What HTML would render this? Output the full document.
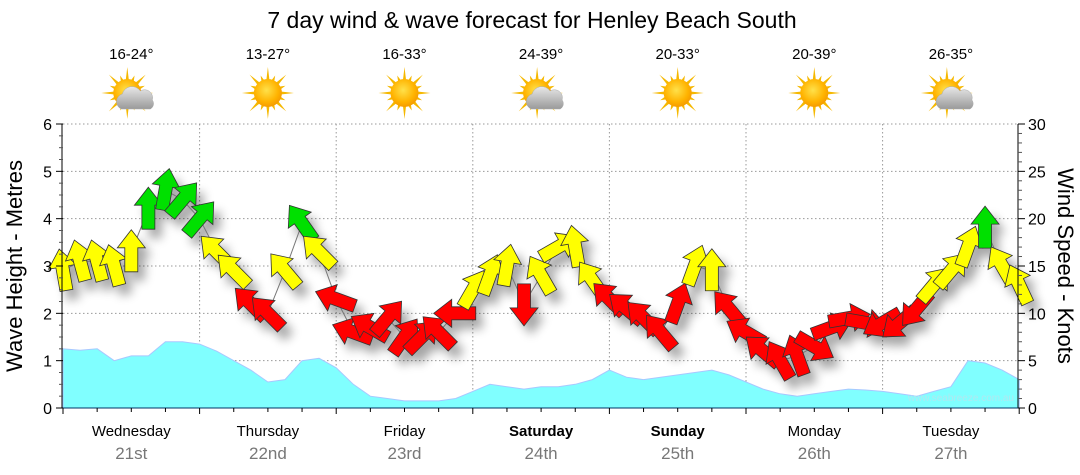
<!DOCTYPE html>
<html><head><meta charset="utf-8">
<style>
html,body{margin:0;padding:0;background:#fff;}
svg{display:block;font-family:"Liberation Sans",Tahoma,sans-serif;}
</style></head>
<body>
<svg id="chart" width="1080" height="475" viewBox="0 0 1080 475" xmlns="http://www.w3.org/2000/svg">
<defs>
<filter id="sh" x="-50%" y="-50%" width="200%" height="200%"><feGaussianBlur stdDeviation="5"/></filter>
<radialGradient id="sunG" cx="45%" cy="40%" r="60%"><stop offset="0" stop-color="#ffe14a"/><stop offset="0.7" stop-color="#ffb300"/><stop offset="1" stop-color="#f59b00"/></radialGradient>
<linearGradient id="cloudG" x1="0" y1="0" x2="0" y2="1"><stop offset="0" stop-color="#e8e8e8"/><stop offset="1" stop-color="#9a9a9a"/></linearGradient>
</defs>
<text x="532" y="28" font-size="23" text-anchor="middle" fill="#000">7 day wind &amp; wave forecast for Henley Beach South</text>
<g id="grid"></g>
<g id="waves"></g>
<g id="shadows" filter="url(#sh)" opacity="0.35"></g>
<g id="arrows"></g>
<g id="axes"></g>
<g id="days"></g>
<text x="1014" y="401" font-size="10" text-anchor="end" fill="#b0e8f0">www.seabreeze.com.au</text>
<text transform="translate(22,266) rotate(-90)" font-size="22" text-anchor="middle">Wave Height - Metres</text>
<text transform="translate(1058,266) rotate(90)" font-size="22" text-anchor="middle">Wind Speed - Knots</text>
</svg>
<script>
const dayNames = ["Wednesday","Thursday","Friday","Saturday","Sunday","Monday","Tuesday"];
const dayDates = ["21st","22nd","23rd","24th","25th","26th","27th"];
const temps = ["16-24°","13-27°","16-33°","24-39°","20-33°","20-39°","26-35°"];
const icons = ["cloud","sun","sun","cloud","sun","sun","cloud"];
const windSpeed = [14.5,15.5,15.5,15,16.5,21,23,22, 20,16.5,14.5,11,10,14.5,19.5,16.5, 11.5,8,8.5,9.5,7.5,7.5,8,10, 12.5,14,15,11,14,17,17,13.5, 11.5,10.5,9.5,8,11,15,14.5,10.5, 8,6,5,5.5,6.5,8.5,9.5,9, 9,9,10.5,13,14.5,17,19,15,13];
const windDir = [-10,-15,-15,-15,0,0,10,40, 40,-45,-45,-45,-45,-40,-35,-45, -70,-70,-60,40,35,45,-45,-90, 30,20,10,180,-30,60,-10,-35, -45,-50,-45,-40,20,20,0,-40, -60,-50,-30,-20,120,70,80,100, 240,230,220,40,40,20,0,-30,-25];
const waveHeight = [1.25,1.22,1.25,1.0,1.1,1.1,1.4,1.4, 1.35,1.2,1.0,0.8,0.55,0.6,1.0,1.05, 0.85,0.5,0.25,0.2,0.15,0.15,0.15,0.2, 0.35,0.5,0.45,0.4,0.45,0.45,0.5,0.6, 0.8,0.65,0.6,0.65,0.7,0.75,0.8,0.7, 0.55,0.4,0.3,0.25,0.3,0.35,0.4,0.38, 0.35,0.3,0.25,0.35,0.45,1.0,0.95,0.8,0.6];

const NS="http://www.w3.org/2000/svg";
const X0=63, DW=136.6, YT=124, YB=408;
const xT = h => X0 + h/24*DW;
const yM = m => YB - (YB-YT)*m/6;
const yK = k => YB - (YB-YT)*k/30;
function mk(tag, attrs, parent){const e=document.createElementNS(NS,tag);for(const k in attrs)e.setAttribute(k,attrs[k]);parent.appendChild(e);return e;}
const G=id=>document.getElementById(id);

const grid=G('grid');
for(let m=1;m<=6;m++){
  const l=mk('line',{x1:X0,x2:1018,y1:yM(m),y2:yM(m),stroke:'#999','stroke-dasharray':'1.5,2.5','stroke-width':1},grid);
  
  
}
for(let d=1;d<7;d++){
  const l=mk('line',{x1:xT(d*24),x2:xT(d*24),y1:YT,y2:YB,stroke:'#999','stroke-dasharray':'1.5,2.5','stroke-width':1},grid);
  
  
}

let pts=waveHeight.map((v,i)=>xT(i*3).toFixed(1)+','+yM(v).toFixed(1));
const wp=mk('polygon',{points:X0+','+YB+' '+pts.join(' ')+' '+xT((waveHeight.length-1)*3)+','+YB,fill:'#80ffff',stroke:'#a8c8ff','stroke-width':1},G('waves'));



const arrowPath="M0,-22 L14,-4 L6.5,-4 L6.5,20 L-6.5,20 L-6.5,-4 L-14,-4 Z";
function col(k){return k<12?'#ff0000':(k<18?'#ffff00':'#00e000');}
windSpeed.forEach((k,i)=>{
  const x=xT(i*3), y=yK(k), a=windDir[i];
  mk('path',{d:arrowPath,fill:'#000',transform:`translate(${x+7},${y+9}) rotate(${a})`},G('shadows'));
});
const ln=mk('polyline',{points:windSpeed.map((k,i)=>xT(i*3)+','+yK(k)).join(' '),fill:'none',stroke:'#777','stroke-width':1},G('arrows'));


windSpeed.forEach((k,i)=>{
  const x=xT(i*3), y=yK(k), a=windDir[i];
  const p=mk('path',{d:arrowPath,fill:col(k),stroke:'#333','stroke-width':0.8,transform:`translate(${x},${y}) rotate(${a})`},G('arrows'));
  
  
});

const ax=G('axes');
mk('line',{x1:X0-1,x2:X0-1,y1:YT,y2:YB,stroke:'#000'},ax);
mk('line',{x1:1018,x2:1018,y1:YT,y2:YB,stroke:'#000'},ax);
mk('line',{x1:X0-1,x2:1018,y1:YB,y2:YB,stroke:'#003366'},ax);
for(let m=0;m<=6;m++){
  mk('line',{x1:X0-7,x2:X0,y1:yM(m),y2:yM(m),stroke:'#000'},ax);
  const t=mk('text',{x:X0-11,y:yM(m)+6,'font-size':16,'text-anchor':'end'},ax);t.textContent=m;
  
  
}
for(let m=0.25;m<6;m+=0.25){ if(m%1) mk('line',{x1:X0-4,x2:X0,y1:yM(m),y2:yM(m),stroke:'#555'},ax); }
for(let k=0;k<=30;k+=5){
  mk('line',{x1:1018,x2:1025,y1:yK(k),y2:yK(k),stroke:'#000'},ax);
  const t=mk('text',{x:1028,y:yK(k)+6,'font-size':16},ax);t.textContent=k;
  
  
}
for(let k=1;k<30;k++){ if(k%5) mk('line',{x1:1018,x2:1022,y1:yK(k),y2:yK(k),stroke:'#555'},ax); }
for(let q=0;q<=28;q++){ mk('line',{x1:xT(q*6),x2:xT(q*6),y1:YB,y2:YB+(q%4?4:6),stroke:'#000'},ax); }

const dg=G('days');
function sun(g,cx,cy){
  for(let r=0;r<16;r++){
    const a=r*Math.PI/8, L=r%2?19:26;
    mk('polygon',{points:`${cx+Math.cos(a)*L},${cy+Math.sin(a)*L} ${cx+Math.cos(a+0.12)*13},${cy+Math.sin(a+0.12)*13} ${cx+Math.cos(a-0.12)*13},${cy+Math.sin(a-0.12)*13}`,fill:'#f5b800'},g);
  }
  mk('circle',{cx,cy,r:14,fill:'url(#sunG)'},g);
}
dayNames.forEach((n,d)=>{
  const cx=xT(d*24+12);
  const t=mk('text',{x:cx,y:59,'font-size':15,'text-anchor':'middle'},dg);t.textContent=temps[d];
  
  
  const g=mk('g',{},dg);
  
  
  sun(g,cx-(icons[d]==='cloud'?4:0),93);
  if(icons[d]==='cloud'){
    mk('path',{d:`M${cx-10},109 a8,8 0 0 1 1,-15 a10,10 0 0 1 18,-3 a8,8 0 0 1 12,9 a6,6 0 0 1 -2,9 Z`,fill:'url(#cloudG)',stroke:'#aaa','stroke-width':0.5},g);
  }
  const dn=mk('text',{x:cx,y:436,'font-size':15,'text-anchor':'middle','font-weight':(d===3||d===4)?'bold':'normal'},dg);dn.textContent=n;
  
  
  const dt=mk('text',{x:cx,y:459,'font-size':17,'text-anchor':'middle',fill:'#777'},dg);dt.textContent=dayDates[d];
  
  
});
</script>
</body></html>
